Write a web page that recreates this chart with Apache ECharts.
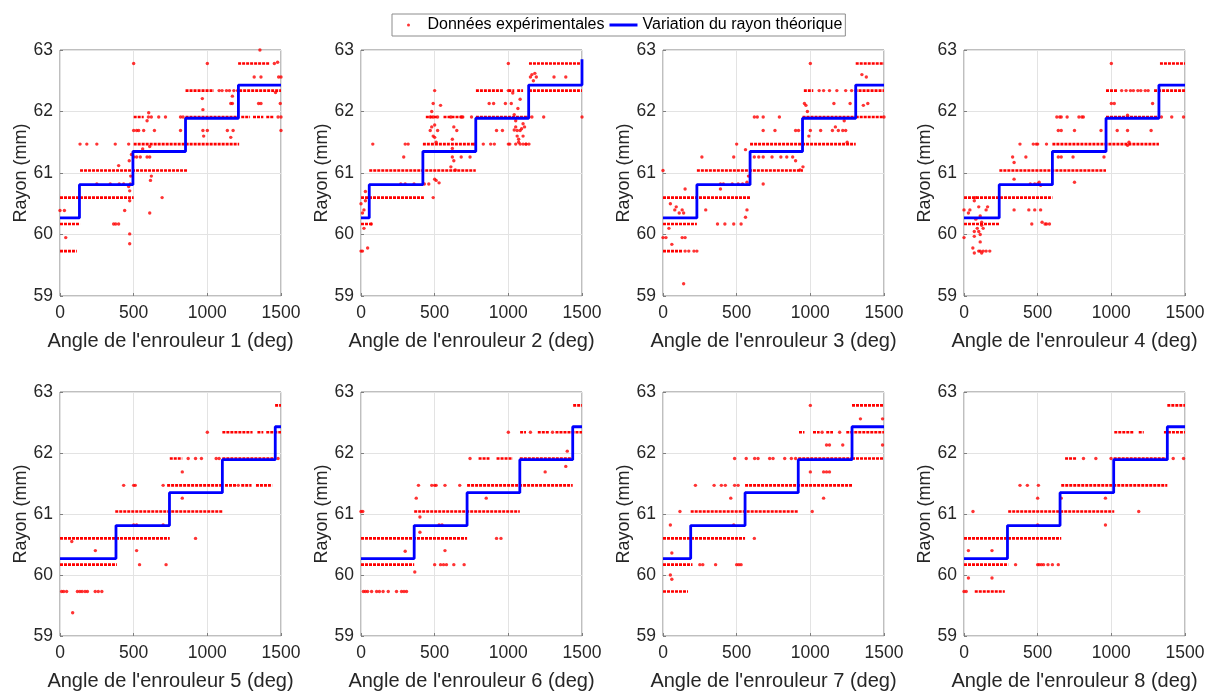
<!DOCTYPE html>
<html><head><meta charset="utf-8">
<script src="https://cdn.jsdelivr.net/npm/echarts@6/dist/echarts.min.js"></script>
<style>html,body{margin:0;padding:0;background:#fff}#c{width:1212px;height:693px}</style>
</head><body><div id="c"></div>
<script>
// ---------- tick labels / titles ----------
const xTicks = [0, 500, 1000, 1500];
const yTicks = [59, 60, 61, 62, 63];
const xTitles = ["Angle de l'enrouleur 1 (deg)","Angle de l'enrouleur 2 (deg)","Angle de l'enrouleur 3 (deg)","Angle de l'enrouleur 4 (deg)",
                 "Angle de l'enrouleur 5 (deg)","Angle de l'enrouleur 6 (deg)","Angle de l'enrouleur 7 (deg)","Angle de l'enrouleur 8 (deg)"];
const yTitle = 'Rayon (mm)';
const legendNames = ['Données expérimentales', 'Variation du rayon théorique'];

// ---------- theoretical radius (step) ----------
const stepY  = [60.27, 60.81, 61.35, 61.89, 62.43, 62.43];
const stepY2 = [60.27, 60.81, 61.35, 61.89, 62.43, 62.85];
const stepX1 = [0, 132, 495, 852, 1211, 1500];
const stepX2 = [0, 56, 420, 779, 1138, 1500];
const stepX3 = [0, 230, 591, 947, 1308, 1500];
const stepX4 = [0, 239, 600, 964, 1323, 1500];
const stepX5 = [0, 380, 743, 1102, 1461, 1500];
const stepX6 = [0, 361, 720, 1078, 1437, 1500];
const stepX7 = [0, 188, 557, 918, 1283, 1500];
const stepX8 = [0, 295, 652, 1016, 1380, 1500];

// ---------- experimental data: dense runs of samples [radius, angleStart, angleEnd] ----------
const runs1 = [[59.73,0,114],[60.17,0,136],[60.60,0,500],[61.04,136,864],[61.47,500,1216],[61.91,500,568],[61.91,852,1216],[61.91,1230,1290],[61.91,1310,1380],[61.91,1400,1450],[62.34,852,1045],[62.34,1216,1500],[62.78,1209,1420]];
const runs2 = [[60.17,0,79],[60.60,0,427],[61.04,56,779],[61.47,420,780],[61.91,440,520],[61.91,560,700],[61.91,780,1138],[62.34,780,966],[62.34,1000,1040],[62.34,1060,1100],[62.34,1140,1500],[62.78,1140,1500]];
const runs3 = [[59.73,0,135],[60.17,0,230],[60.60,0,591],[61.04,230,950],[61.47,591,1308],[61.91,947,1308],[61.91,1308,1500],[62.34,956,1020],[62.34,1300,1500],[62.78,1308,1500]];
const runs4 = [[60.17,0,240],[60.60,0,600],[61.04,240,964],[61.47,600,1323],[61.91,964,1323],[62.34,964,1040],[62.34,1290,1500],[62.78,1330,1500]];
const runs5 = [[60.17,0,386],[60.60,0,745],[61.04,375,1102],[61.47,727,1109],[61.47,1120,1200],[61.47,1230,1300],[61.47,1330,1440],[61.91,745,830],[61.91,1102,1461],[62.34,1102,1307],[62.34,1340,1380],[62.34,1400,1500],[62.78,1460,1500]];
const runs6 = [[60.17,0,361],[60.60,0,720],[61.04,361,1078],[61.47,720,1437],[61.91,798,872],[61.91,920,1030],[61.91,1078,1437],[62.34,1080,1120],[62.34,1200,1280],[62.34,1320,1500],[62.78,1440,1500]];
const runs7 = [[59.73,0,170],[60.17,0,200],[60.60,0,557],[61.04,188,918],[61.47,557,1283],[61.91,918,1283],[61.91,1283,1500],[62.34,923,960],[62.34,1018,1063],[62.34,1108,1154],[62.34,1244,1500],[62.78,1283,1500]];
const runs8 = [[59.73,73,277],[60.17,0,300],[60.60,0,660],[61.04,300,1020],[61.47,660,1380],[61.91,686,766],[61.91,1016,1380],[62.34,1020,1152],[62.34,1186,1220],[62.34,1357,1500],[62.78,1380,1500]];

// ---------- experimental data: isolated samples [angle, radius] ----------
const pts1 = [[39,59.95],[0,60.39],[30,60.39],[439,60.39],[364,60.17],[378,60.17],[398,60.17],[250,60.82],[341,60.82],[402,60.82],[432,60.82],[477,60.82],[398,61.12],[466,60.78],[473,60.71],[473,60.55],[473,59.85],[473,60.01],[609,60.35],[693,60.6],[614,60.88],[620,60.95],[480,60.95],[470,61.2],[485,61.3],[136,61.47],[182,61.47],[250,61.47],[375,61.47],[466,61.47],[500,61.26],[520,61.26],[545,61.26],[591,61.26],[609,61.26],[561,61.39],[609,61.43],[500,61.69],[520,61.69],[534,61.69],[568,61.69],[641,61.69],[818,61.69],[970,61.69],[1000,61.69],[1136,61.69],[1175,61.69],[1500,61.69],[602,61.98],[591,61.85],[600,61.91],[620,61.91],[670,61.91],[716,61.91],[818,61.91],[835,61.91],[966,62.21],[970,62.03],[975,61.6],[1159,62.13],[1170,62.13],[1159,61.58],[1170,62.25],[1348,62.13],[1364,62.13],[1495,62.13],[1318,62.56],[1364,62.56],[1484,62.56],[1500,62.56],[1463,62.31],[1357,63.0],[500,62.78],[1000,62.78],[1455,62.78],[1477,62.8],[1080,62.34],[1100,62.34],[1130,62.34],[1150,62.34],[1180,62.34],[1205,62.34],[1480,61.91],[1500,61.91]];
const pts2 = [[0,60.5],[10,60.35],[20,60.4],[30,60.7],[20,60.1],[45,59.78],[0,59.73],[10,59.73],[30,60.55],[70,60.17],[80,61.47],[270,60.82],[300,60.82],[360,60.82],[290,61.26],[300,61.47],[320,61.47],[430,60.82],[460,60.82],[490,60.6],[500,60.9],[510,60.88],[530,60.84],[490,61.6],[470,61.69],[500,61.58],[510,61.5],[480,62.0],[490,62.13],[500,62.34],[540,62.1],[480,61.75],[500,61.78],[520,61.69],[470,61.91],[490,61.91],[520,61.91],[610,61.91],[630,61.75],[620,61.4],[620,61.26],[630,61.2],[610,61.1],[640,61.05],[620,61.55],[650,61.69],[680,61.26],[690,61.91],[680,61.91],[740,61.26],[750,61.91],[770,61.47],[870,62.13],[900,62.13],[920,61.69],[960,61.69],[980,62.13],[1000,62.34],[1000,62.78],[1020,62.13],[1030,62.3],[1040,61.95],[1050,61.75],[1060,61.69],[1070,61.55],[1080,61.69],[1090,61.72],[1100,61.8],[1060,61.6],[1050,61.85],[1065,62.05],[1080,62.2],[1040,61.7],[1070,61.5],[1100,61.6],[1110,61.75],[1120,61.47],[1150,62.56],[1160,62.6],[1170,62.5],[1180,62.62],[1190,62.56],[1310,62.56],[1390,62.56],[1500,61.91],[1240,61.91],[1160,61.91],[1140,61.91],[830,61.47],[880,61.47],[905,61.47],[1000,61.47],[1010,61.47],[1050,61.47],[1080,61.47],[1100,61.47],[1120,61.47],[1140,61.47]];
const pts3 = [[0,61.04],[0,59.95],[20,59.95],[40,60.1],[50,60.5],[60,59.84],[80,60.4],[90,60.45],[110,60.35],[130,60.4],[130,59.95],[150,59.95],[150,60.74],[140,60.35],[140,59.2],[150,59.73],[175,59.73],[210,59.73],[230,59.73],[290,60.4],[390,60.74],[370,60.17],[420,60.17],[480,60.17],[530,60.17],[570,60.4],[560,60.28],[390,60.82],[410,60.82],[470,60.82],[510,60.82],[540,60.82],[570,60.85],[580,60.95],[264,61.26],[480,61.26],[500,61.47],[560,61.38],[620,61.26],[650,61.26],[680,61.26],[680,61.69],[680,60.82],[740,61.26],[760,61.69],[790,61.91],[800,61.26],[840,61.26],[880,61.26],[900,61.2],[900,61.69],[920,61.69],[930,61.05],[950,61.1],[620,61.91],[640,61.91],[680,61.91],[1000,62.78],[960,62.13],[970,62.1],[980,62.0],[990,61.6],[1000,61.69],[1070,61.69],[1150,61.69],[1160,62.13],[1170,61.75],[1190,61.69],[1220,61.69],[1240,61.69],[1250,61.5],[1270,62.13],[1230,61.85],[1350,62.6],[1380,62.56],[1360,62.1],[1390,62.13],[1500,61.91],[1060,62.34],[1090,62.34],[1130,62.34],[1180,62.34],[1240,62.34],[1280,62.34]];
const pts4 = [[0,59.95],[0,60.4],[30,60.35],[40,60.4],[70,60.55],[80,60.6],[70,60.05],[70,59.97],[80,60.25],[90,60.1],[100,60.05],[100,60.45],[110,60.3],[110,60.0],[110,59.88],[120,60.15],[120,60.2],[130,60.1],[150,60.4],[160,60.45],[100,59.73],[110,59.73],[120,59.7],[130,59.73],[150,59.73],[175,59.73],[60,59.78],[70,59.7],[340,61.17],[340,60.9],[330,61.26],[380,61.47],[420,61.26],[340,60.4],[440,60.4],[460,60.17],[480,60.4],[510,60.85],[520,60.4],[530,60.2],[550,60.17],[560,60.17],[580,60.17],[450,60.82],[480,60.82],[500,60.82],[520,60.8],[470,61.47],[490,61.47],[500,61.47],[560,61.47],[630,61.91],[650,61.91],[660,61.91],[700,61.91],[640,61.69],[660,61.69],[640,61.26],[660,61.26],[740,61.26],[750,61.69],[750,60.85],[780,61.91],[800,61.91],[810,61.91],[930,61.69],[950,61.26],[1000,62.78],[1000,62.13],[1020,62.13],[1040,61.69],[1110,61.69],[1110,61.94],[1110,61.45],[1270,61.69],[1280,62.13],[1120,61.5],[1410,61.91],[1490,61.91],[1340,61.91],[1070,62.34],[1100,62.34],[1130,62.34],[1150,62.34],[1180,62.34],[1200,62.34],[1230,62.34],[1250,62.34]];
const pts5 = [[11,59.73],[25,59.73],[45,59.73],[118,59.73],[135,59.73],[150,59.73],[170,59.73],[186,59.73],[239,59.73],[260,59.73],[284,59.73],[86,59.38],[80,60.55],[240,60.4],[432,61.47],[500,61.47],[511,61.47],[700,61.47],[500,60.82],[520,60.82],[520,60.4],[540,60.17],[700,60.82],[720,60.17],[830,61.26],[830,61.69],[1000,62.34],[920,60.6],[870,61.91],[920,61.91],[960,61.91],[1060,61.91],[1080,61.91],[1210,61.47],[1480,61.91]];
const pts6 = [[16,59.73],[30,59.73],[45,59.73],[72,59.73],[106,59.73],[125,59.73],[150,59.73],[185,59.73],[241,59.73],[275,59.73],[292,59.73],[309,59.73],[0,61.04],[12,61.04],[300,60.39],[365,60.05],[375,61.26],[390,61.47],[400,60.95],[400,60.7],[480,61.47],[500,61.47],[510,61.47],[570,61.47],[670,61.47],[500,60.17],[540,60.17],[560,60.17],[580,60.17],[630,60.17],[700,60.17],[530,60.82],[550,60.82],[570,60.4],[740,61.91],[850,61.26],[920,60.6],[950,60.6],[1000,62.34],[1250,61.69],[1390,61.78],[1400,62.03],[1150,62.34],[1300,62.34]];
const pts7 = [[250,60.17],[270,60.17],[357,60.17],[500,60.17],[515,60.17],[530,60.17],[620,60.6],[115,61.04],[1013,61.04],[220,61.47],[347,61.47],[396,61.47],[423,61.47],[486,61.47],[510,61.47],[486,61.91],[565,61.91],[622,61.91],[645,61.91],[724,61.91],[747,61.91],[826,61.91],[871,61.91],[900,61.91],[50,60.0],[60,59.93],[60,60.36],[50,60.82],[460,61.26],[1000,62.78],[1000,61.69],[1090,61.69],[1110,61.69],[1130,61.69],[1090,61.26],[1110,62.13],[1130,62.13],[1220,62.13],[1340,62.56],[1490,62.56],[1490,62.13],[480,60.82],[1199,62.34],[1080,62.34]];
const pts8 = [[0,59.73],[15,59.73],[30,60.4],[30,59.95],[190,59.95],[190,60.4],[61,61.04],[1186,61.04],[380,61.47],[430,61.47],[505,61.47],[350,60.17],[500,60.17],[510,60.17],[525,60.17],[540,60.17],[570,60.17],[600,60.17],[640,60.17],[500,61.26],[500,60.82],[660,61.26],[960,61.26],[960,60.82],[811,61.91],[895,61.91],[998,61.91],[1420,61.91],[1490,61.91]];

// ---------- assemble ----------
const allRuns = [runs1, runs2, runs3, runs4, runs5, runs6, runs7, runs8];
const allPts = [pts1, pts2, pts3, pts4, pts5, pts6, pts7, pts8];
const allStepX = [stepX1, stepX2, stepX3, stepX4, stepX5, stepX6, stepX7, stepX8];
const allStepY = [stepY, stepY2, stepY, stepY, stepY, stepY, stepY, stepY];

const RED = '#ff0000', BLUE = '#0000ff', TXT = '#262626', AX = '#7f7f7f';
const FONT = '"Liberation Sans", Arial, Helvetica, sans-serif';
const lefts = [60, 361, 663, 964];
const grids = [], xAxes = [], yAxes = [], series = [];

for (let i = 0; i < 8; i++) {
  const row = i < 4 ? 0 : 1;
  grids.push({
    left: lefts[i % 4], width: 221,
    top: row === 0 ? 50 : 392, height: row === 0 ? 246 : 244,
    show: true, borderColor: AX, borderWidth: 1, backgroundColor: '#fff'
  });
  xAxes.push({
    gridIndex: i, type: 'value', min: xTicks[0], max: xTicks[xTicks.length - 1], interval: 500,
    name: xTitles[i], nameLocation: 'middle', nameGap: 35,
    nameTextStyle: { fontSize: 20, color: TXT, fontFamily: FONT },
    axisLine: { show: false },
    axisTick: { show: true, inside: true, length: 3, lineStyle: { color: AX } },
    axisLabel: { fontSize: 17.5, color: TXT, margin: 8, fontFamily: FONT, showMinLabel: true, showMaxLabel: true,
                 formatter: v => String(v) },
    splitLine: { show: true, lineStyle: { color: '#e3e3e3', width: 1 } }
  });
  yAxes.push({
    gridIndex: i, type: 'value', min: yTicks[0], max: yTicks[yTicks.length - 1], interval: 1,
    name: yTitle, nameLocation: 'middle', nameGap: 30,
    nameTextStyle: { fontSize: 18, color: TXT, fontFamily: FONT },
    axisLine: { show: false },
    axisTick: { show: true, inside: true, length: 3, lineStyle: { color: AX } },
    axisLabel: { fontSize: 17.5, color: TXT, margin: 7, fontFamily: FONT, showMinLabel: true, showMaxLabel: true,
                 formatter: v => String(v) },
    splitLine: { show: true, lineStyle: { color: '#e3e3e3', width: 1 } }
  });
  // isolated samples (legend entry)
  series.push({
    type: 'scatter', name: legendNames[0], xAxisIndex: i, yAxisIndex: i,
    data: allPts[i], symbol: 'circle', symbolSize: 3.4, silent: true, animation: false, z: 3,
    itemStyle: { color: RED }
  });
  // dense runs of samples
  allRuns[i].forEach(r => {
    series.push({
      type: 'line', name: 'runs', xAxisIndex: i, yAxisIndex: i,
      data: [[r[1], r[0]], [r[2], r[0]]],
      symbol: 'none', silent: true, animation: false, z: 2,
      itemStyle: { color: RED },
      lineStyle: { color: RED, width: 2.6, type: [3, 1], cap: 'butt' }
    });
  });
  // theoretical step
  series.push({
    type: 'line', name: legendNames[1], xAxisIndex: i, yAxisIndex: i,
    data: allStepX[i].map((x, k) => [x, allStepY[i][k]]),
    step: 'end', symbol: 'none', silent: true, animation: false, z: 5,
    itemStyle: { color: BLUE },
    lineStyle: { color: BLUE, width: 2.8 }
  });
}

const chart = echarts.init(document.getElementById('c'), null, { renderer: 'canvas' });
chart.setOption({
  backgroundColor: '#ffffff',
  animation: false,
  textStyle: { fontFamily: FONT },
  legend: {
    left: 392, top: 14, padding: [3, 3, 3, 15], itemGap: 5, itemWidth: 28, itemHeight: 3,
    borderColor: '#8c8c8c', borderWidth: 1, backgroundColor: '#fff',
    textStyle: { fontSize: 16, color: '#000', fontFamily: FONT },
    data: [{ name: legendNames[0], icon: 'circle' }, { name: legendNames[1], icon: 'rect' }],
    selectedMode: false
  },
  grid: grids, xAxis: xAxes, yAxis: yAxes, series: series
});
</script></body></html>
